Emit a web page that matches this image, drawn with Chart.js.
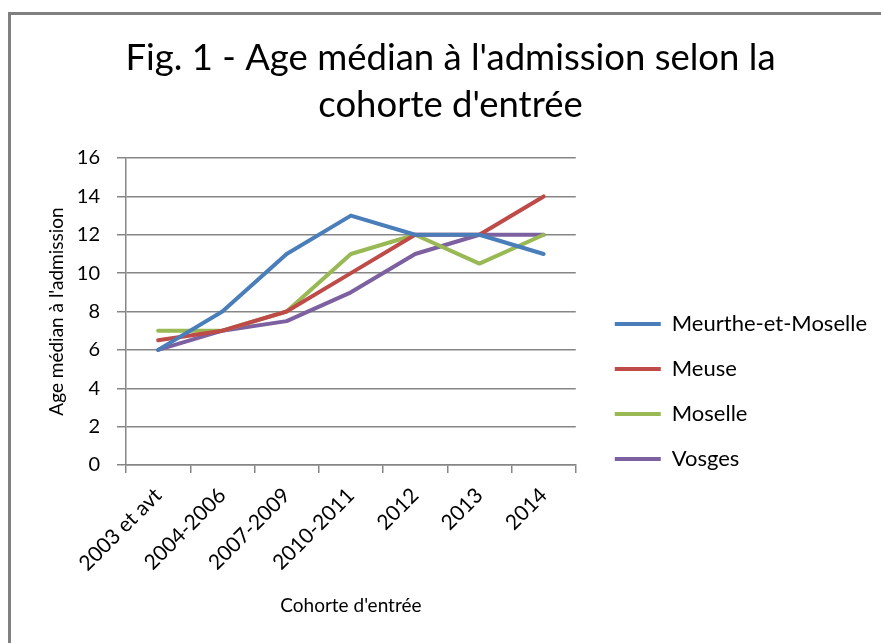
<!DOCTYPE html>
<html>
<head>
<meta charset="utf-8">
<script src="https://cdn.jsdelivr.net/npm/chart.js@4"></script>
<style>
  html,body{margin:0;padding:0;background:#fff;}
  #wrap{position:relative;width:881px;height:643px;overflow:hidden;}
  #frame{position:absolute;left:8px;top:12px;width:900px;height:700px;border-left:3px solid #808080;border-top:3px solid #808080;}
  canvas{position:absolute;left:0;top:0;}
</style>
</head>
<body>
<div id="wrap">
  <div id="frame"></div>
  <canvas id="chart" width="881" height="643"></canvas>
</div>
<script>
// data
const categories = ['2003 et avt', '2004-2006', '2007-2009', '2010-2011', '2012', '2013', '2014'];
const meurtheEtMoselle = [6, 8, 11, 13, 12, 12, 11];
const meuse = [6.5, 7, 8, 10, 12, 12, 14];
const moselle = [7, 7, 8, 11, 12, 10.5, 12];
const vosges = [6, 7, 7.5, 9, 11, 12, 12];
const yMin = 0, yMax = 16, yStep = 2;

const FONT = 'Lato, "Open Sans", sans-serif';
const GRID = '#868686';

function line(label, data, color){
  return {label, data, borderColor:color, backgroundColor:color, borderWidth:4,
    pointRadius:0, tension:0, fill:false, borderCapStyle:'round', borderJoinStyle:'round'};
}

// Excel places the legend and title a little off the default spots
const nudge = {
  id:'nudge',
  afterLayout(chart){
    const lg = chart.legend;
    if(lg){ lg.left += 16; lg.right += 16; lg.top += 28; lg.bottom += 28; }
    const tb = chart.titleBlock;
    if(tb){ const dx = 450.5 - (tb.left + tb.right) / 2; tb.left += dx; tb.right += dx; }
  }
};

new Chart(document.getElementById('chart'), {
  type:'line',
  data:{
    labels: categories,
    datasets:[
      line('Meurthe-et-Moselle', meurtheEtMoselle, '#4a7ebb'),
      line('Meuse', meuse, '#be4b48'),
      line('Moselle', moselle, '#98b954'),
      line('Vosges', vosges, '#7d60a0')
    ]
  },
  options:{
    responsive:false,
    animation:false,
    layout:{padding:{top:35, right:20, bottom:0, left:0}},
    plugins:{
      title:{display:true, text:["Fig. 1 - Age médian à l'admission selon la", "cohorte d'entrée"],
        color:'#000', font:{family:FONT, size:36.5, weight:'normal', lineHeight:1.28},
        padding:{top:0, bottom:29.6}},
      legend:{position:'right', align:'end', fullSize:false, maxWidth:400,
        labels:{color:'#000', font:{family:FONT, size:22}, usePointStyle:true, pointStyle:'line',
          pointStyleWidth:46, padding:23}},
      tooltip:{enabled:false}
    },
    scales:{
      x:{
        offset:true,
        grid:{display:true, offset:true, drawOnChartArea:false, drawTicks:true, tickLength:8, color:GRID, lineWidth:1.5},
        border:{display:true, color:GRID, width:1.5},
        ticks:{color:'#000', font:{family:FONT, size:21}, minRotation:45, maxRotation:45, padding:10, autoSkip:false},
        title:{display:true, text:"Cohorte d'entrée", color:'#000', font:{family:FONT, size:19}, padding:{top:0, bottom:26}},
        afterFit(s){ s.height = 178; }
      },
      y:{
        min:yMin, max:yMax,
        grid:{color:GRID, lineWidth:1.5, tickLength:9, drawTicks:true},
        border:{display:true, color:GRID, width:1.5},
        ticks:{stepSize:yStep, color:'#000', font:{family:FONT, size:20}, padding:17},
        title:{display:true, text:"Age médian à l'admission", color:'#000', font:{family:FONT, size:19}, padding:{top:45, bottom:0}},
        afterFit(s){ s.width = 126; }
      }
    }
  },
  plugins:[nudge]
});
</script>
</body>
</html>
